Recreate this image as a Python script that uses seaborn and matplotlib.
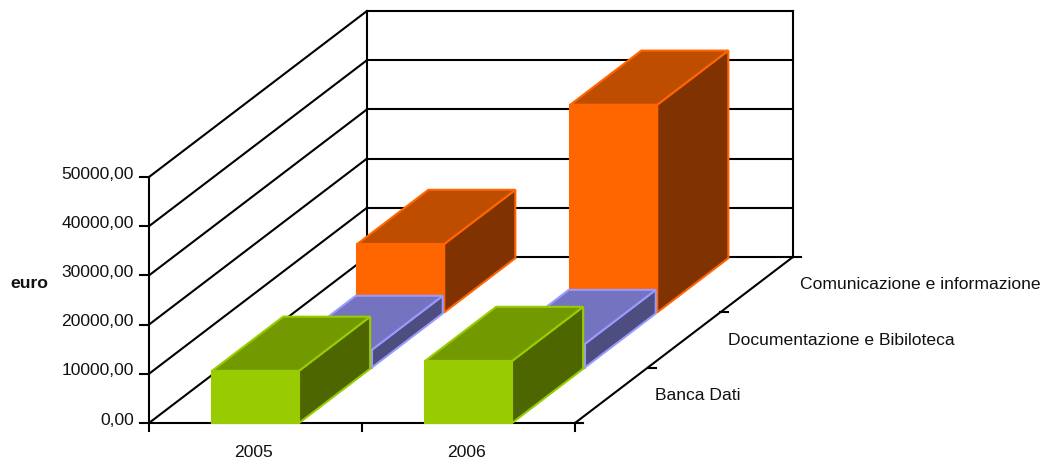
import numpy as np
import matplotlib
matplotlib.use('Agg')
import matplotlib.pyplot as plt
import seaborn as sns

# Valori del grafico
anni = ['2005', '2006']
serie = ['Banca Dati', 'Documentazione e Bibiloteca', 'Comunicazione e informazione']
banca_dati = [10600, 12600]
documentazione = [3600, 4800]
comunicazione = [13900, 42200]
valori_asse = [0, 10000, 20000, 30000, 40000, 50000]
colori_serie = ['#99CC00', '#9999FF', '#FF6600']

# Geometria della proiezione (pixel della figura)
X0, Y0 = 149, 423
LARG_CAT = 213
PROF = (72.6, -55.3)
SCALA = 246 / 50000
LARG_BARRA = 87
FONT = 'Liberation Sans'
TXT = 12.6


def proietta(x, valore, z):
    # x in categorie, z in serie, valore in euro
    return (X0 + x * LARG_CAT + z * PROF[0], Y0 - valore * SCALA + z * PROF[1])


def linea(ax, a, b, lw=1.5):
    ax.plot([a[0], b[0]], [a[1], b[1]], color='black', lw=lw, solid_capstyle='projecting', zorder=1)


def barra(ax, i, z, valore, colore):
    w = LARG_BARRA / LARG_CAT
    x0 = i + (1 - w) / 2
    x1 = x0 + w
    z1 = z + 0.98
    base = np.array(matplotlib.colors.to_rgb(colore))
    facce = [
        ([(x1, 0, z), (x1, 0, z1), (x1, valore, z1), (x1, valore, z)], base * 0.5),
        ([(x0, valore, z), (x1, valore, z), (x1, valore, z1), (x0, valore, z1)], base * 0.75),
        ([(x0, 0, z), (x1, 0, z), (x1, valore, z), (x0, valore, z)], base),
    ]
    for vertici, col in facce:
        punti = [proietta(*v) for v in vertici]
        ax.fill([p[0] for p in punti], [p[1] for p in punti], facecolor=col,
                edgecolor=colore, lw=1.5, joinstyle='miter', zorder=5 - z)


sns.set_theme(style='white')
plt.rcParams['font.family'] = [FONT, 'DejaVu Sans']

fig, ax = plt.subplots(figsize=(10.42, 4.61), dpi=100)
ax.set_position([0, 0, 1, 1])
ax.set_xlim(0, 1042)
ax.set_ylim(461, 0)
sns.despine(ax=ax, left=True, bottom=True)
ax.set_xticks([])
ax.set_yticks([])

n_cat = len(anni)
n_ser = len(serie)

# Griglia: pareti e pavimento
for v in valori_asse:
    linea(ax, proietta(0, v, 0), proietta(0, v, n_ser))
    linea(ax, proietta(0, v, n_ser), proietta(n_cat, v, n_ser))
    linea(ax, (proietta(0, v, 0)[0] - 9, proietta(0, v, 0)[1]), proietta(0, v, 0))
    ax.text(proietta(0, v, 0)[0] - 15, proietta(0, v, 0)[1] - 3, f'{v:.2f}'.replace('.', ','),
            ha='right', va='center', fontsize=TXT, color='#111111')
linea(ax, proietta(0, 0, 0), proietta(0, valori_asse[-1], 0))
linea(ax, proietta(0, 0, n_ser), proietta(0, valori_asse[-1], n_ser))
linea(ax, proietta(n_cat, 0, n_ser), proietta(n_cat, valori_asse[-1], n_ser))
linea(ax, proietta(0, 0, 0), proietta(n_cat, 0, 0))
linea(ax, proietta(n_cat, 0, 0), proietta(n_cat, 0, n_ser))

# Tacche e etichette degli assi
for i in range(n_cat + 1):
    a = proietta(i, 0, 0)
    linea(ax, a, (a[0], a[1] + 8))
for i, anno in enumerate(anni):
    a = proietta(i + 0.5, 0, 0)
    ax.text(a[0] - 2, a[1] + 29, anno, ha='center', va='center', fontsize=TXT, color='#111111')
for z in range(n_ser + 1):
    a = proietta(n_cat, 0, z)
    linea(ax, a, (a[0] + 8, a[1]))
for z, nome in enumerate(serie):
    a = proietta(n_cat, 0, z + 0.5)
    ax.text(a[0] + 44, a[1], nome, ha='left', va='center', fontsize=TXT, color='#111111')

ax.text(10, 283, 'euro', ha='left', va='center', fontsize=TXT, fontweight='bold', color='#111111')

# Barre, dalla serie piu' lontana alla piu' vicina
valori = [banca_dati, documentazione, comunicazione]
for z in reversed(range(n_ser)):
    for i in range(n_cat):
        barra(ax, i, z, valori[z][i], colori_serie[z])

plt.savefig('out.png', dpi=100)
